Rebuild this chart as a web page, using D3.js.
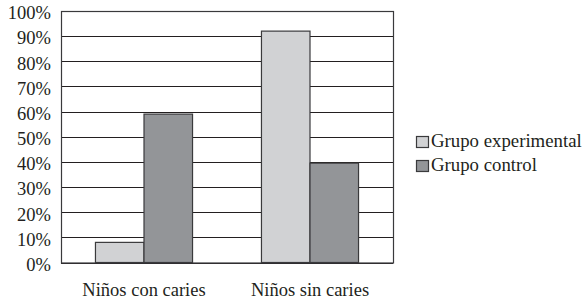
<!DOCTYPE html>
<html>
<head>
<meta charset="utf-8">
<script src="https://cdn.jsdelivr.net/npm/d3@7"></script>
<style>
  body { margin: 0; background: #fff; }
  text { font-family: "Liberation Serif", "Times New Roman", serif; fill: #231f20; }
</style>
</head>
<body>
<div id="chart"></div>
<script>
const categories = ['Niños con caries', 'Niños sin caries']
const seriesNames = ['Grupo experimental', 'Grupo control']
const experimental = [8, 92]
const control = [59, 39.5]
const yTicks = [0, 10, 20, 30, 40, 50, 60, 70, 80, 90, 100]
const colors = ['#d1d2d4', '#939598']

const W = 582, H = 301
const margin = { top: 11, right: 189, bottom: 38.5, left: 61 }
const width = W - margin.left - margin.right
const height = H - margin.top - margin.bottom

const rows = categories.map((c, i) => ({ cat: c, values: [experimental[i], control[i]] }))

const svg = d3.select('#chart').append('svg')
    .attr('width', W)
    .attr('height', H)

const g = svg.append('g')
    .attr('transform', `translate(${margin.left},${margin.top})`)

const x0 = d3.scaleBand().domain(categories).range([0, width]).padding(0)
const x1 = d3.scaleBand().domain(seriesNames).range([0, x0.bandwidth()])
    .paddingInner(0).paddingOuter(0.71)
const y = d3.scaleLinear().domain([0, 100]).range([height, 0])

// gridlines
g.selectAll('.grid')
    .data(yTicks)
    .enter().append('line')
    .attr('x1', 0)
    .attr('x2', width)
    .attr('y1', d => Math.round(y(d)) + 0.5)
    .attr('y2', d => Math.round(y(d)) + 0.5)
    .attr('stroke', '#231f20')
    .attr('stroke-width', 1.2)

// y labels
g.selectAll('.ylab')
    .data(yTicks)
    .enter().append('text')
    .attr('x', -10)
    .attr('y', d => y(d))
    .attr('dy', '0.45em')
    .attr('text-anchor', 'end')
    .style('font-size', '18.5px')
    .text(d => d + '%')

// bars
const grp = g.selectAll('.grp')
    .data(rows)
    .enter().append('g')
    .attr('transform', d => `translate(${x0(d.cat)},0)`)

grp.selectAll('rect')
    .data(d => d.values.map((v, i) => ({ key: seriesNames[i], v, i })))
    .enter().append('rect')
    .attr('x', d => x1(d.key))
    .attr('y', d => y(d.v))
    .attr('width', x1.bandwidth())
    .attr('height', d => height - y(d.v))
    .attr('fill', d => colors[d.i])
    .attr('stroke', '#3a3a3c')
    .attr('stroke-width', 1.2)

// plot border
g.append('rect')
    .attr('x', 0.5)
    .attr('y', 0.5)
    .attr('width', width)
    .attr('height', height)
    .attr('fill', 'none')
    .attr('stroke', '#3a3a3c')
    .attr('stroke-width', 1.2)

// x labels
g.selectAll('.xlab')
    .data(categories)
    .enter().append('text')
    .attr('x', d => x0(d) + x0.bandwidth() / 2)
    .attr('y', height + 33)
    .attr('text-anchor', 'middle')
    .style('font-size', '18.5px')
    .text(d => d)

// legend
const legend = svg.selectAll('.legend')
    .data(seriesNames)
    .enter().append('g')
    .attr('transform', (d, i) => `translate(416,${136 + i * 24})`)

legend.append('rect')
    .attr('x', 0.5)
    .attr('y', 0.5)
    .attr('width', 12)
    .attr('height', 11)
    .attr('fill', (d, i) => colors[i])
    .attr('stroke', '#3a3a3c')
    .attr('stroke-width', 1.2)

legend.append('text')
    .attr('x', 15)
    .attr('y', 11)
    .style('font-size', '18.8px')
    .text(d => d)
</script>
</body>
</html>
